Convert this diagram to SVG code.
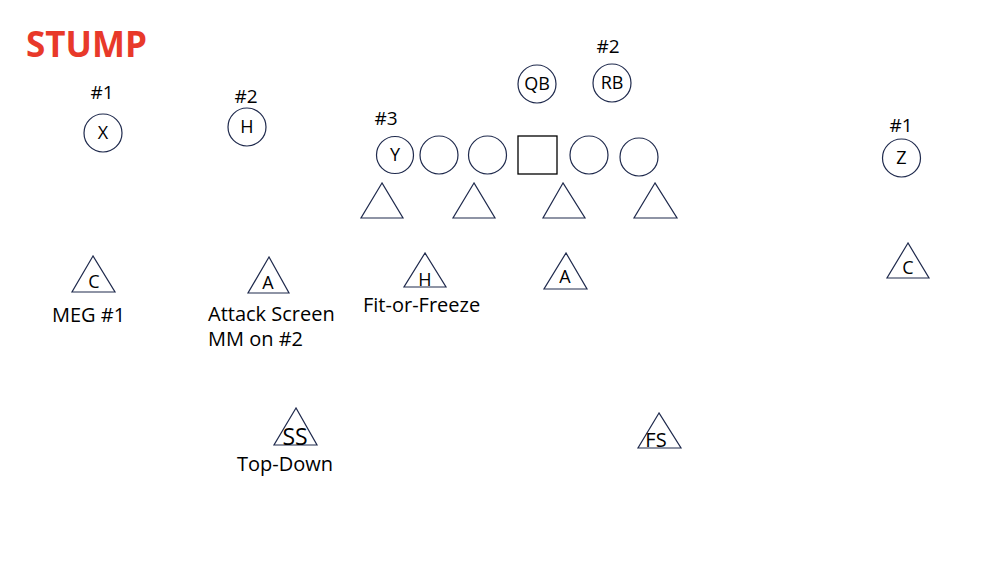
<svg xmlns="http://www.w3.org/2000/svg" width="1002" height="562" viewBox="0 0 1002 562">
<style>
.c{fill:#fff;stroke:#1f2a4d;stroke-width:1.2}
.sq{fill:#fff;stroke:#000;stroke-width:1.3}
.t{font-family:"Segoe UI","Open Sans","Liberation Sans",sans-serif;fill:#000}
.lbl{font-size:20px}
.in{font-size:18px;text-anchor:middle}
.num{font-size:19px;text-anchor:middle}
.title{font-family:"Open Sans","Liberation Sans",sans-serif;font-weight:bold;font-size:35px;fill:#e8392a}
</style>
<rect width="1002" height="562" fill="#fff"/>
<text class="title" x="26" y="57">STUMP</text>
<g id="offense">
<g id="X"><text class="t num" x="102" y="99">#1</text><circle class="c" cx="103" cy="133" r="19"/><text class="t in" x="103" y="139">X</text></g>
<g id="H"><text class="t num" x="246" y="103">#2</text><circle class="c" cx="247" cy="127" r="19"/><text class="t in" x="247" y="133">H</text></g>
<g id="QB"><circle class="c" cx="537" cy="84" r="19"/><text class="t in" x="537" y="90">QB</text></g>
<g id="RB"><text class="t num" x="608" y="53">#2</text><circle class="c" cx="612" cy="83" r="19"/><text class="t in" x="612" y="89">RB</text></g>
<g id="Y"><text class="t num" x="386" y="125">#3</text><circle class="c" cx="395" cy="155" r="18.5"/><text class="t in" x="395" y="161">Y</text></g>
<g id="OL1"><circle class="c" cx="439" cy="155" r="19"/></g>
<g id="OL2"><circle class="c" cx="487.5" cy="155" r="19"/></g>
<g id="C"><rect class="sq" x="518" y="136" width="39" height="38"/></g>
<g id="OL3"><circle class="c" cx="589" cy="155" r="19"/></g>
<g id="OL4"><circle class="c" cx="639" cy="157" r="19"/></g>
<g id="Z"><text class="t num" x="901" y="132">#1</text><circle class="c" cx="901.5" cy="158" r="19"/><text class="t in" x="901.5" y="164">Z</text></g>
</g>
<g id="defense">
<g id="DL1"><polygon class="c" points="382,183 361,218 403,218"/></g>
<g id="DL2"><polygon class="c" points="474,183 453,218 495,218"/></g>
<g id="DL3"><polygon class="c" points="563,183 543,218 585,218"/></g>
<g id="DL4"><polygon class="c" points="655,183 634,218 677,218"/></g>
<g id="CB-left"><polygon class="c" points="93,256 72,292 115,292"/><text class="t in" x="94" y="288">C</text><text class="t lbl" x="52" y="322">MEG #1</text></g>
<g id="A-left"><polygon class="c" points="269,257 248,293 289,293"/><text class="t in" x="268" y="289">A</text><text class="t lbl" x="208" y="321">Attack Screen</text><text class="t lbl" x="208" y="346">MM on #2</text></g>
<g id="H-def"><polygon class="c" points="425,253 404,287 446,287"/><text class="t in" x="425" y="286">H</text><text class="t lbl" x="363" y="312">Fit-or-Freeze</text></g>
<g id="A-mid"><polygon class="c" points="566,253 544,289 587,289"/><text class="t in" x="565" y="283">A</text></g>
<g id="CB-right"><polygon class="c" points="908,243 887,278 929,278"/><text class="t in" x="908" y="274">C</text></g>
<g id="SS"><polygon class="c" points="296,408 274,445 317,445"/><text class="t" x="295" y="445" font-size="23" text-anchor="middle">SS</text><text class="t lbl" x="237" y="471">Top-Down</text></g>
<g id="FS"><polygon class="c" points="659,413 638,448 681,448"/><text class="t" x="656" y="447" font-size="20" text-anchor="middle">FS</text></g>
</g>
</svg>
